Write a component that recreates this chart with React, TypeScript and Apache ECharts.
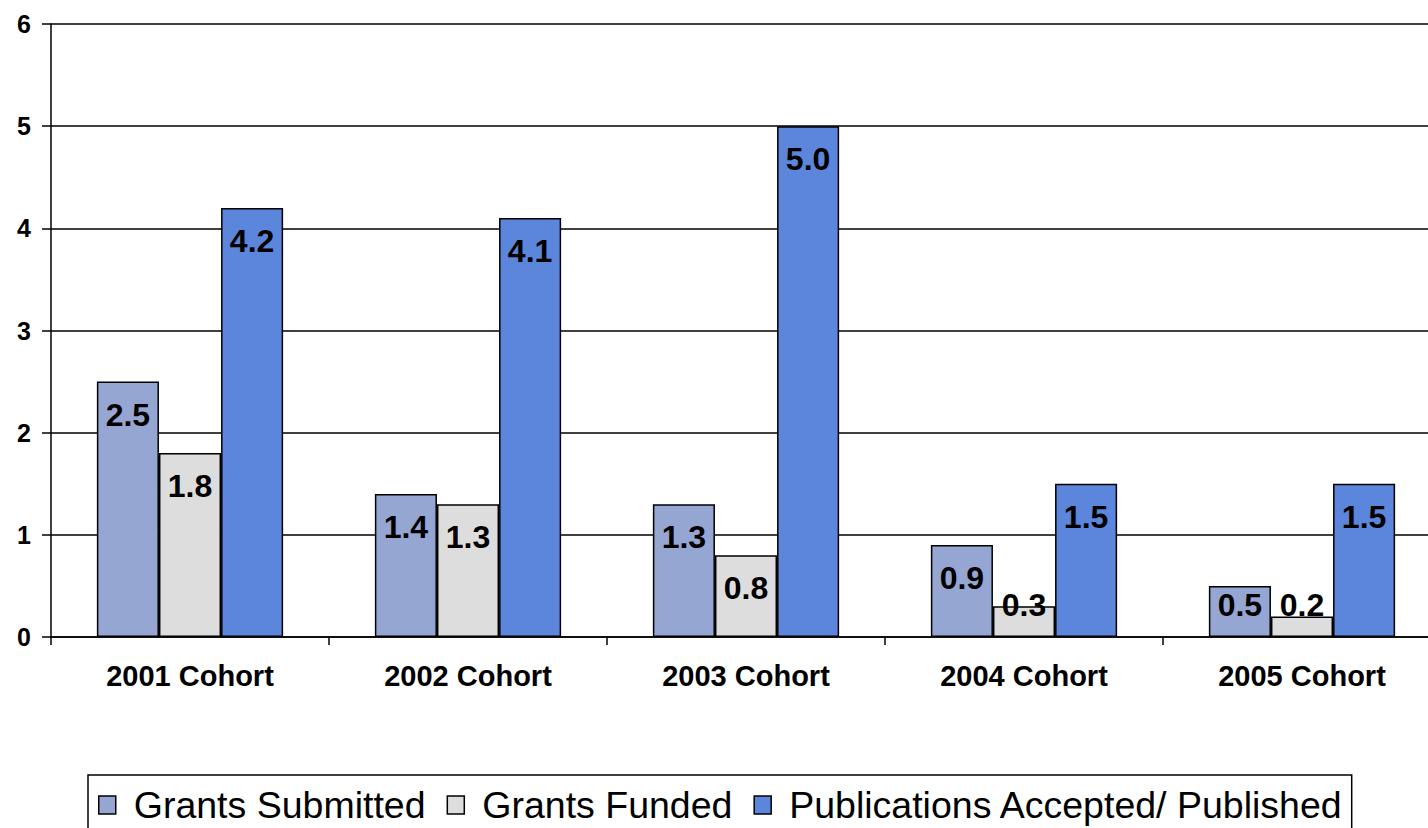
import React, { useEffect, useRef } from "react";
import * as echarts from "echarts";

const categories = ["2001 Cohort", "2002 Cohort", "2003 Cohort", "2004 Cohort", "2005 Cohort"];
const grantsSubmitted = [2.5, 1.4, 1.3, 0.9, 0.5];
const grantsFunded = [1.8, 1.3, 0.8, 0.3, 0.2];
const publications = [4.2, 4.1, 5.0, 1.5, 1.5];
const seriesNames = ["Grants Submitted", "Grants Funded", "Publications Accepted/ Published"];
const seriesColors = ["#96A6D3", "#DDDDDD", "#5B86DB"];
const yTicks = { min: 0, max: 6, interval: 1 };

const FONT = "'Liberation Sans', Arial, Helvetica, sans-serif";
const LABEL_FLIP = 0.64; // bars shorter than this get their label anchored to the bottom

function makeData(values: number[]) {
  return values.map((v) => ({
    value: v,
    label:
      v < LABEL_FLIP
        ? { position: "insideBottom", distance: 16 }
        : { position: "insideTop", distance: 17 },
  }));
}

export default function App() {
  const ref = useRef<HTMLDivElement>(null);
  useEffect(() => {
    document.body.style.margin = "0";
    document.body.style.overflow = "hidden";
    const chart = echarts.init(ref.current!, undefined, { renderer: "svg" });
    const allValues = [grantsSubmitted, grantsFunded, publications];
    chart.setOption({
      animation: false,
      backgroundColor: "#ffffff",
      textStyle: { fontFamily: FONT },
      grid: { left: 51, top: 24, width: 1390, height: 613, containLabel: false },
      legend: {
        data: seriesNames,
        left: 88,
        top: 775,
        orient: "horizontal",
        padding: [11, 8, 40, 10],
        itemGap: 21,
        itemWidth: 17,
        itemHeight: 18,
        borderColor: "#000",
        borderWidth: 1.5,
        borderRadius: 0,
        icon: "rect",
        itemStyle: { borderColor: "#000", borderWidth: 1.5 },
        textStyle: {
          fontFamily: FONT,
          fontSize: 37.5,
          lineHeight: 37,
          color: "#000",
          padding: [0, 0, 0, 13],
        },
      },
      xAxis: {
        type: "category",
        data: categories,
        axisLine: { lineStyle: { color: "#000", width: 1.5 } },
        axisTick: { show: true, length: 8, lineStyle: { color: "#000", width: 1.5 } },
        axisLabel: {
          fontFamily: FONT,
          fontSize: 29,
          fontWeight: "bold",
          color: "#000",
          margin: 24,
        },
      },
      yAxis: {
        type: "value",
        min: yTicks.min,
        max: yTicks.max,
        interval: yTicks.interval,
        axisLine: { show: true, lineStyle: { color: "#000", width: 1.5 } },
        axisTick: { show: true, length: 9, lineStyle: { color: "#000", width: 1.5 } },
        splitLine: { show: true, lineStyle: { color: "#000", width: 1.5 } },
        axisLabel: {
          fontFamily: FONT,
          fontSize: 25,
          fontWeight: "bold",
          color: "#000",
          margin: 20,
        },
      },
      series: seriesNames.map((name, i) => ({
        name,
        type: "bar",
        data: makeData(allValues[i]),
        barGap: "0%",
        barCategoryGap: "33%",
        itemStyle: { color: seriesColors[i], borderColor: "#000", borderWidth: 1.5 },
        label: {
          show: true,
          fontFamily: FONT,
          fontSize: 32,
          lineHeight: 32,
          fontWeight: "bold",
          color: "#000",
          formatter: (p: any) => Number(p.value).toFixed(1),
        },
      })),
    });
    return () => chart.dispose();
  }, []);
  return <div ref={ref} style={{ width: 1450, height: 828 }} />;
}
